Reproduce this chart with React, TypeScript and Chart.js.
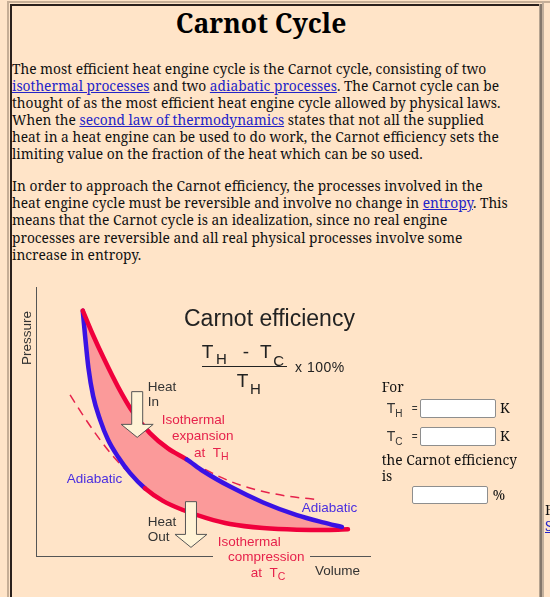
import React, { useEffect, useRef } from "react";
import { Chart, registerables } from "chart.js";

Chart.register(...registerables);

// ---- data (volume, pressure) in arbitrary units ----
const hotIsothermV = [1.40, 1.68, 2.04, 2.46, 2.90, 3.41, 3.95, 4.51];
const hotIsothermP = [9.12, 8.29, 7.32, 6.28, 5.35, 4.57, 4.00, 3.59];

const expansionAdiabatV = [4.51, 5.00, 5.81, 6.80, 7.81, 8.59, 9.16];
const expansionAdiabatP = [3.59, 3.16, 2.58, 1.99, 1.52, 1.25, 1.08];

const compressionAdiabatV = [1.40, 1.47, 1.57, 1.71, 1.92, 2.16, 2.46, 2.81, 3.26];
const compressionAdiabatP = [9.12, 8.18, 6.99, 5.95, 5.06, 4.31, 3.68, 3.09, 2.52];

const coldIsothermV = [3.26, 3.80, 4.40, 5.11, 5.81, 6.80, 7.81, 8.80, 9.34];
const coldIsothermP = [2.52, 2.05, 1.71, 1.41, 1.19, 1.04, 0.98, 0.97, 0.99];

const coldExtensionV = [1.02, 1.44, 1.86, 2.28, 2.75, 3.26];
const coldExtensionP = [5.99, 5.17, 4.42, 3.75, 3.12, 2.52];

const hotExtensionV = [5.06, 5.51, 6.11, 6.80, 7.61, 8.44];
const hotExtensionP = [3.22, 2.94, 2.64, 2.40, 2.21, 2.10];

// heat-flow arrows: volume position, top and tip pressure
const heatArrowV = [3.03, 4.64];
const heatArrowTopP = [6.11, 2.02];
const heatArrowTipP = [4.41, 0.32];

// ---- styles ----
const BG = "#ffe4c8";
const RED = "#f0003c";
const BLUE = "#3a12e4";
const PINK = "#fb9a9a";
const RED_TEXT = "#e6224c";
const BLUE_TEXT = "#4a2ee0";
const DARK = "#333";
const SERIF = '"Noto Serif", "DejaVu Serif", serif';
const SANS = '"Liberation Sans", Arial, Helvetica, sans-serif';
const LINK = "#2424c8";
const BODY = 13.75;

const pts = (vs: number[], ps: number[]) => vs.map((v, i) => ({ x: v, y: ps[i] }));

const arrowPlugin = {
  id: "heatArrows",
  afterDatasetsDraw(chart: any) {
    const { ctx, scales } = chart;
    const xs = scales.x;
    const ys = scales.y;
    const shaft = 11;
    const head = 32;
    const headLen = 13;
    ctx.save();
    heatArrowV.forEach((v, i) => {
      const cx = xs.getPixelForValue(v);
      const top = ys.getPixelForValue(heatArrowTopP[i]);
      const tip = ys.getPixelForValue(heatArrowTipP[i]);
      const base = tip - headLen;
      ctx.beginPath();
      ctx.moveTo(cx - shaft / 2, top);
      ctx.lineTo(cx + shaft / 2, top);
      ctx.lineTo(cx + shaft / 2, base);
      ctx.lineTo(cx + head / 2, base);
      ctx.lineTo(cx, tip);
      ctx.lineTo(cx - head / 2, base);
      ctx.lineTo(cx - shaft / 2, base);
      ctx.closePath();
      ctx.fillStyle = "#fff3d6";
      ctx.fill();
      ctx.lineWidth = 1;
      ctx.strokeStyle = "#555";
      ctx.stroke();
    });
    ctx.restore();
  },
};

function Txt(props: any) {
  const { x, b, s, c = "#111", f = SANS, w, children, st } = props;
  return (
    <div
      style={{
        position: "absolute",
        left: x,
        top: b - 0.846 * s,
        fontSize: s,
        lineHeight: `${s}px`,
        height: s,
        whiteSpace: "nowrap",
        color: c,
        fontFamily: f,
        fontWeight: w,
        ...st,
      }}
    >
      {children}
    </div>
  );
}

function Sub(props: any) {
  return <span style={{ fontSize: props.s, position: "relative", top: props.dy }}>{props.children}</span>;
}

function A(props: any) {
  return <span style={{ color: LINK, textDecoration: "underline" }}>{props.children}</span>;
}

function PvChart() {
  const ref = useRef<HTMLCanvasElement | null>(null);
  useEffect(() => {
    if (!ref.current) return;
    const upper = [...pts(hotIsothermV, hotIsothermP), ...pts(expansionAdiabatV, expansionAdiabatP).slice(1)];
    const lower = [...pts(compressionAdiabatV, compressionAdiabatP), ...pts(coldIsothermV, coldIsothermP).slice(1)];
    const hotN = hotIsothermV.length - 1;
    const adN = compressionAdiabatV.length - 1;
    const common = {
      pointRadius: 0,
      cubicInterpolationMode: "monotone",
      borderCapStyle: "round",
      borderJoinStyle: "round",
    };
    const chart = new Chart(ref.current, {
      type: "line",
      data: {
        datasets: [
          {
            ...common,
            label: "Cycle area (upper edge)",
            data: upper,
            borderWidth: 0,
            borderColor: "rgba(0,0,0,0)",
            backgroundColor: PINK,
            fill: "+1",
            order: 10,
          },
          {
            ...common,
            label: "Cycle area (lower edge)",
            data: lower,
            borderWidth: 0,
            borderColor: "rgba(0,0,0,0)",
            fill: false,
            order: 11,
          },
          {
            ...common,
            label: "Isothermal expansion / adiabatic expansion",
            data: upper,
            borderWidth: 4.5,
            borderColor: RED,
            fill: false,
            segment: { borderColor: (c: any) => (c.p0DataIndex < hotN ? RED : BLUE) },
            order: 1,
          },
          {
            ...common,
            label: "Adiabatic compression / isothermal compression",
            data: lower,
            borderWidth: 4.5,
            borderColor: RED,
            fill: false,
            segment: { borderColor: (c: any) => (c.p0DataIndex < adN ? BLUE : RED) },
            order: 2,
          },
          {
            ...common,
            label: "Cold isotherm extension",
            data: pts(coldExtensionV, coldExtensionP),
            borderWidth: 1.5,
            borderColor: RED_TEXT,
            borderDash: [9, 6],
            borderCapStyle: "butt",
            fill: false,
            order: 3,
          },
          {
            ...common,
            label: "Hot isotherm extension",
            data: pts(hotExtensionV, hotExtensionP),
            borderWidth: 1.5,
            borderColor: RED_TEXT,
            borderDash: [9, 6],
            borderCapStyle: "butt",
            fill: false,
            order: 4,
          },
        ],
      },
      options: {
        animation: false,
        responsive: false,
        events: [],
        layout: { padding: { left: 24, top: 12, right: 5, bottom: 41 }, autoPadding: false },
        plugins: {
          legend: { display: false },
          tooltip: { enabled: false },
          title: { display: false },
          filler: { drawTime: "beforeDatasetsDraw", propagate: false },
        },
        scales: {
          x: {
            type: "linear",
            min: 0,
            max: 10,
            grid: { display: false, drawTicks: false },
            ticks: { display: false },
            border: { display: true, color: "#555", width: 1 },
          },
          y: {
            type: "linear",
            min: 0,
            max: 10,
            grid: { display: false, drawTicks: false },
            ticks: { display: false },
            border: { display: true, color: "#555", width: 1 },
          },
        },
      } as any,
      plugins: [arrowPlugin],
    } as any);
    return () => chart.destroy();
  }, []);
  return (
    <canvas
      ref={ref}
      width={363}
      height={322}
      style={{ position: "absolute", left: 12, top: 275, width: 363, height: 322 }}
    />
  );
}

function Box(props: any) {
  return (
    <div
      style={{
        position: "absolute",
        left: props.x,
        top: props.y,
        width: props.w,
        height: props.h,
        background: "#fff",
        border: "1px solid #8e8e8e",
        borderRadius: 2,
        boxSizing: "border-box",
      }}
    />
  );
}

function Rect(props: any) {
  return (
    <div style={{ position: "absolute", left: props.x, top: props.y, width: props.w, height: props.h, background: props.c }} />
  );
}

export default function App() {
  const p1 = [73.3, 90.3, 107.3, 124.3, 141.3, 158.3];
  const p2 = [190.7, 207.9, 225.1, 242.3, 259.5];
  const sT = 19;
  const sS = 15;
  return (
    <div
      style={{
        position: "absolute",
        left: 0,
        top: 0,
        width: 550,
        height: 597,
        overflow: "hidden",
        background: BG,
        fontFamily: SERIF,
      }}
    >
      {/* table borders */}
      <Rect x={7} y={1} w={543} h={2} c="#c6ae96" />
      <Rect x={7} y={1} w={2} h={596} c="#c6ae96" />
      <Rect x={10} y={4} w={530} h={2} c="#2a201c" />
      <Rect x={10} y={4} w={2} h={593} c="#2a201c" />
      <Rect x={539} y={4} w={1} h={593} c="#b5a390" />
      <Rect x={540} y={4} w={2} h={593} c="#85786c" />
      <Rect x={542} y={1} w={2} h={596} c="#c3b09c" />

      {/* title */}
      <div
        style={{
          position: "absolute",
          left: 111,
          width: 300,
          top: 32.7 - 0.846 * 26.5,
          fontSize: 26.5,
          lineHeight: "26.5px",
          fontWeight: "bold",
          textAlign: "center",
          whiteSpace: "nowrap",
          color: "#000",
        }}
      >
        Carnot Cycle
      </div>

      {/* paragraph 1 */}
      <Txt x={12} b={p1[0]} s={BODY} f={SERIF}>
        The most efficient heat engine cycle is the Carnot cycle, consisting of two
      </Txt>
      <Txt x={12} b={p1[1]} s={BODY} f={SERIF}>
        <A>isothermal processes</A> and two <A>adiabatic processes</A>. The Carnot cycle can be
      </Txt>
      <Txt x={12} b={p1[2]} s={BODY} f={SERIF}>
        thought of as the most efficient heat engine cycle allowed by physical laws.
      </Txt>
      <Txt x={12} b={p1[3]} s={BODY} f={SERIF}>
        When the <A>second law of thermodynamics</A> states that not all the supplied
      </Txt>
      <Txt x={12} b={p1[4]} s={BODY} f={SERIF}>
        heat in a heat engine can be used to do work, the Carnot efficiency sets the
      </Txt>
      <Txt x={12} b={p1[5]} s={BODY} f={SERIF}>
        limiting value on the fraction of the heat which can be so used.
      </Txt>

      {/* paragraph 2 */}
      <Txt x={12} b={p2[0]} s={BODY} f={SERIF}>
        In order to approach the Carnot efficiency, the processes involved in the
      </Txt>
      <Txt x={12} b={p2[1]} s={BODY} f={SERIF}>
        heat engine cycle must be reversible and involve no change in <A>entropy</A>. This
      </Txt>
      <Txt x={12} b={p2[2]} s={BODY} f={SERIF}>
        means that the Carnot cycle is an idealization, since no real engine
      </Txt>
      <Txt x={12} b={p2[3]} s={BODY} f={SERIF}>
        processes are reversible and all real physical processes involve some
      </Txt>
      <Txt x={12} b={p2[4]} s={BODY} f={SERIF}>
        increase in entropy.
      </Txt>

      {/* diagram */}
      <PvChart />
      <Rect x={213} y={553} w={97} h={6} c={BG} />

      <div
        style={{
          position: "absolute",
          left: -3,
          top: 331,
          width: 60,
          height: 14,
          lineHeight: "14px",
          fontSize: 13.5,
          fontFamily: SANS,
          color: DARK,
          textAlign: "center",
          transform: "rotate(-90deg)",
          whiteSpace: "nowrap",
        }}
      >
        Pressure
      </div>
      <Txt x={315} b={575.5} s={13.5} c={DARK}>Volume</Txt>

      <Txt x={184} b={326.7} s={23} c="#222">Carnot efficiency</Txt>
      <Txt x={201.7} b={358.3} s={sT} c="#222">T</Txt>
      <Txt x={216} b={364} s={sS} c="#222">H</Txt>
      <Txt x={242.7} b={358.3} s={sT} c="#222">-</Txt>
      <Txt x={260} b={358.3} s={sT} c="#222">T</Txt>
      <Txt x={273.3} b={365.7} s={sS} c="#222">C</Txt>
      <Rect x={201.7} y={366.2} w={85} h={1.3} c="#222" />
      <Txt x={236.7} b={387.3} s={sT} c="#222">T</Txt>
      <Txt x={250} b={393.3} s={sS} c="#222">H</Txt>
      <Txt x={295} b={371.7} s={14} c="#222" st={{ letterSpacing: 0.5 }}>x 100%</Txt>

      <Txt x={147.7} b={391} s={13.5} c={DARK}>Heat</Txt>
      <Txt x={147.7} b={406.5} s={13.5} c={DARK}>In</Txt>
      <Txt x={161.7} b={424.5} s={13.5} c={RED_TEXT}>Isothermal</Txt>
      <Txt x={172} b={440} s={13.5} c={RED_TEXT}>expansion</Txt>
      <Txt x={194} b={457} s={13.5} c={RED_TEXT}>
        at&nbsp;&nbsp;T<Sub s={10.5} dy={3}>H</Sub>
      </Txt>
      <Txt x={66.7} b={483} s={13.5} c={BLUE_TEXT}>Adiabatic</Txt>
      <Txt x={301.7} b={512.5} s={13.5} c={BLUE_TEXT}>Adiabatic</Txt>
      <Txt x={147.7} b={526} s={13.5} c={DARK}>Heat</Txt>
      <Txt x={147.7} b={541} s={13.5} c={DARK}>Out</Txt>
      <Txt x={217.7} b={546} s={13.5} c={RED_TEXT}>Isothermal</Txt>
      <Txt x={228} b={561} s={13.5} c={RED_TEXT}>compression</Txt>
      <Txt x={250.7} b={577.5} s={13.5} c={RED_TEXT}>
        at&nbsp;&nbsp;T<Sub s={10.5} dy={3}>C</Sub>
      </Txt>

      {/* calculator */}
      <Txt x={381.7} b={391.7} s={BODY} f={SERIF}>For</Txt>
      <Txt x={386.7} b={413} s={14} c={DARK}>
        T<Sub s={10} dy={4.3}>H</Sub>
      </Txt>
      <Txt x={411.7} b={412} s={10} c={DARK}>=</Txt>
      <Box x={420} y={399} w={76} h={19} />
      <Txt x={500} b={413} s={BODY} f={SERIF}>K</Txt>
      <Txt x={386.7} b={441} s={14} c={DARK}>
        T<Sub s={10} dy={4.3}>C</Sub>
      </Txt>
      <Txt x={411.7} b={440} s={10} c={DARK}>=</Txt>
      <Box x={420} y={427} w={76} h={19} />
      <Txt x={500} b={441} s={BODY} f={SERIF}>K</Txt>
      <Txt x={381.7} b={465} s={BODY} f={SERIF}>the Carnot efficiency</Txt>
      <Txt x={381.7} b={480.7} s={BODY} f={SERIF}>is</Txt>
      <Box x={412} y={486} w={76} h={18} />
      <Txt x={492.7} b={500} s={BODY} f={SERIF}>%</Txt>

      {/* next column (cut off) */}
      <Txt x={545} b={515} s={BODY} f={SERIF}>For</Txt>
      <Txt x={545} b={531} s={BODY} f={SERIF}>
        <A>See</A>
      </Txt>
    </div>
  );
}
